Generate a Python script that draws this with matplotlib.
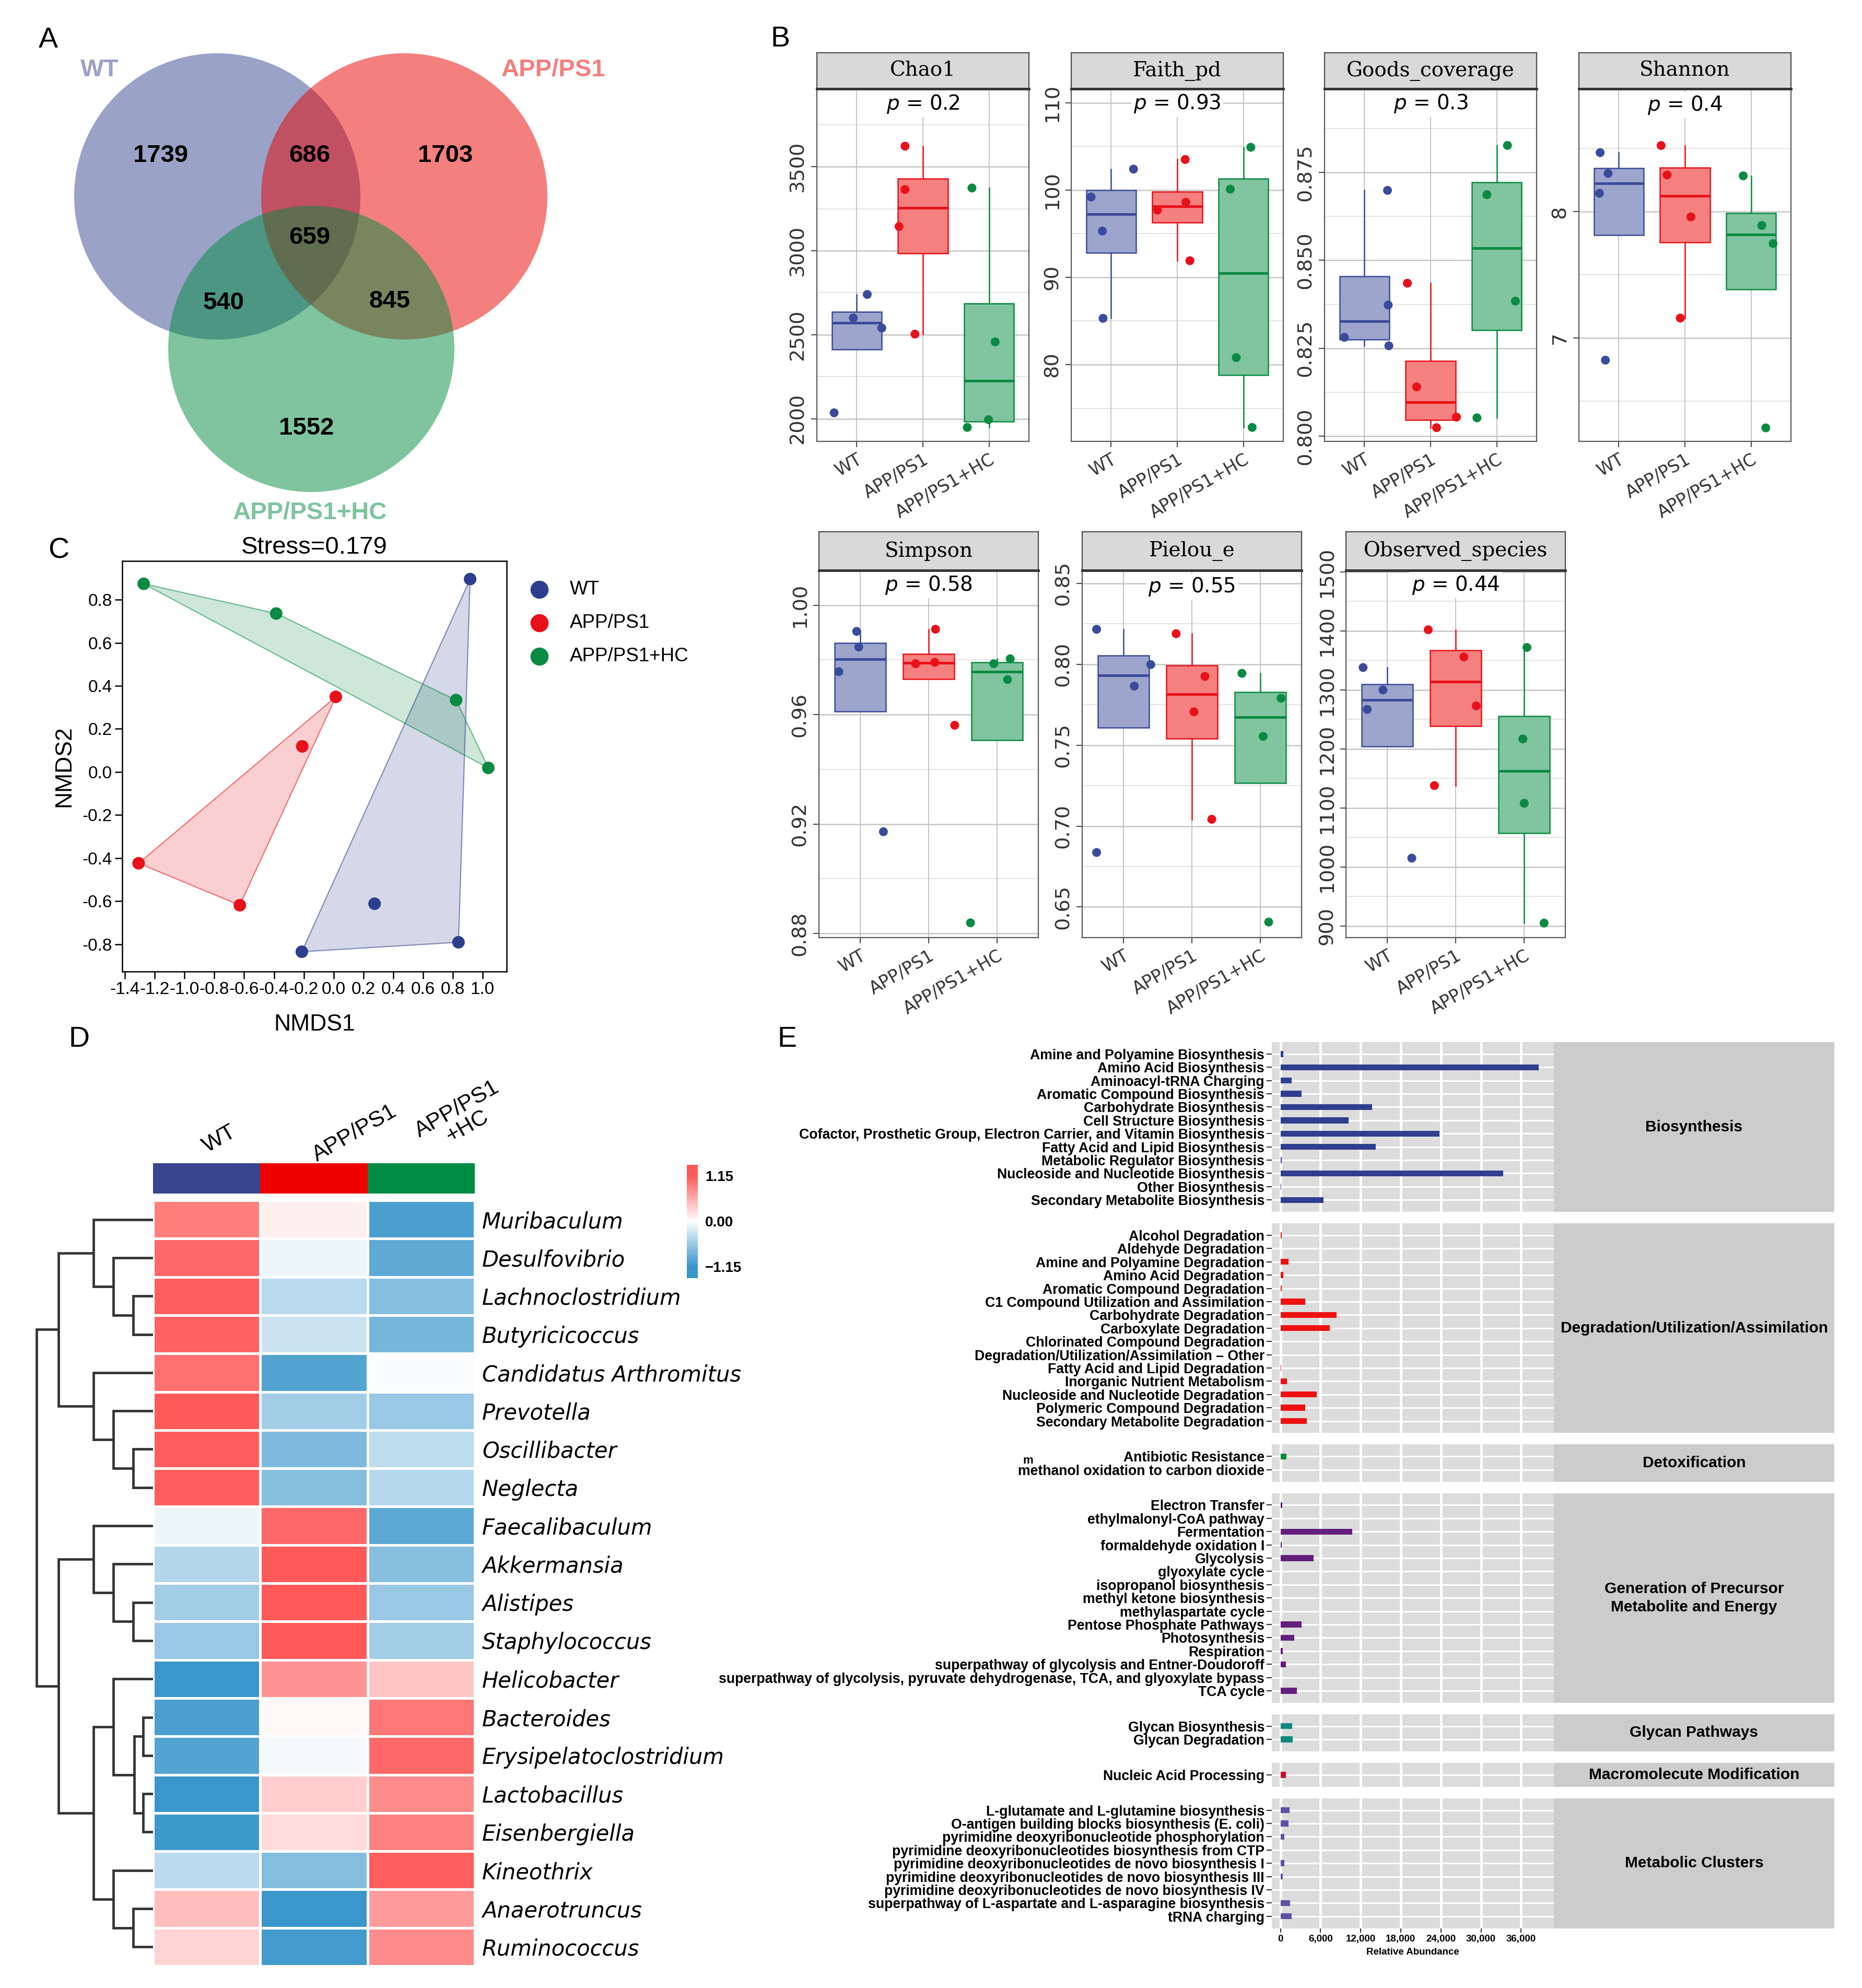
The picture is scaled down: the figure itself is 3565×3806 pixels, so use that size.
import numpy as np
import matplotlib
matplotlib.use('Agg')
import matplotlib.pyplot as plt
from matplotlib.patches import Circle, Rectangle, Polygon
from matplotlib.colors import LinearSegmentedColormap

plt.rcParams['font.family'] = 'DejaVu Sans'
plt.rcParams['axes.unicode_minus'] = False

# ---------------- data ----------------
groups = ['WT', 'APP/PS1', 'APP/PS1+HC']

# A - venn counts (WT only, WT&APP, APP only, all three, WT&HC, APP&HC, HC only)
venn_counts = [1739, 686, 1703, 659, 540, 845, 1552]

# B - alpha diversity (4 mice per group)
alpha_metrics = ['Chao1', 'Faith_pd', 'Goods_coverage', 'Shannon',
                 'Simpson', 'Pielou_e', 'Observed_species']
alpha_p = ['0.2', '0.93', '0.3', '0.4', '0.58', '0.55', '0.44']
alpha_wt = [[2036, 2740, 2600, 2540],
            [99.2, 95.3, 85.3, 102.4],
            [0.8699, 0.8373, 0.8281, 0.8257],
            [8.468, 8.303, 8.146, 6.825],
            [0.9904, 0.9847, 0.9757, 0.9172],
            [0.8216, 0.7998, 0.7865, 0.6837],
            [1338, 1300, 1267, 1015]]
alpha_app = [[3622, 3364, 3144, 2504],
             [103.5, 97.7, 98.6, 91.9],
             [0.8435, 0.8140, 0.8054, 0.8024],
             [8.524, 8.291, 7.959, 7.158],
             [0.9912, 0.9786, 0.9791, 0.9561],
             [0.8189, 0.7925, 0.7706, 0.7042],
             [1402, 1356, 1273, 1138]]
alpha_hc = [[3373, 2458, 1995, 1949],
            [104.9, 100.1, 80.8, 72.8],
            [0.8827, 0.8687, 0.8384, 0.8052],
            [8.284, 7.891, 7.748, 6.289],
            [0.9804, 0.9786, 0.9728, 0.8839],
            [0.7944, 0.7790, 0.7554, 0.6407],
            [1372, 1217, 1108, 905]]
# horizontal jitter of each point
jit_wt = [[-0.34, 0.16, -0.05, 0.38], [-0.30, -0.13, -0.12, 0.34], [0.35, 0.36, -0.30, 0.37],
          [-0.28, -0.16, -0.29, -0.20], [-0.05, -0.02, -0.31, 0.34], [-0.39, 0.40, 0.16, -0.39],
          [-0.35, -0.06, -0.29, 0.36]]
jit_app = [[-0.27, -0.27, -0.36, -0.12], [0.12, -0.30, 0.13, 0.19], [-0.35, -0.21, 0.39, 0.09],
           [-0.36, -0.27, 0.09, -0.07], [0.10, -0.19, 0.09, 0.38], [-0.23, 0.19, 0.03, 0.29],
           [-0.40, 0.12, 0.30, -0.31]]
jit_hc = [[-0.26, 0.09, -0.01, -0.33], [0.11, -0.20, -0.11, 0.13], [0.16, -0.15, 0.28, -0.30],
          [-0.12, 0.16, 0.33, 0.22], [0.19, -0.05, 0.15, -0.39], [-0.27, 0.30, 0.04, 0.12],
          [0.04, -0.02, 0.0, 0.29]]

# C - NMDS
nmds_group = ['WT'] * 4 + ['APP/PS1'] * 4 + ['APP/PS1+HC'] * 4
nmds1 = [0.916, 0.275, 0.838, -0.213, 0.015, -0.210, -1.308, -0.629, -1.274, -0.385, 0.822, 1.038]
nmds2 = [0.896, -0.612, -0.791, -0.835, 0.349, 0.119, -0.424, -0.619, 0.874, 0.736, 0.334, 0.019]
nmds_stress = 0.179

# D - heatmap (row z-scores)
genera = ['Muribaculum', 'Desulfovibrio', 'Lachnoclostridium', 'Butyricicoccus',
          'Candidatus Arthromitus', 'Prevotella', 'Oscillibacter', 'Neglecta',
          'Faecalibaculum', 'Akkermansia', 'Alistipes', 'Staphylococcus', 'Helicobacter',
          'Bacteroides', 'Erysipelatoclostridium', 'Lactobacillus', 'Eisenbergiella',
          'Kineothrix', 'Anaerotruncus', 'Ruminococcus']
heat_wt = [0.90, 1.05, 1.12, 1.10, 1.00, 1.15, 1.13, 1.13, -0.10, -0.45,
           -0.55, -0.60, -1.15, -1.05, -1.00, -1.15, -1.13, -0.40, 0.45, 0.30]
heat_app = [0.10, -0.10, -0.40, -0.30, -1.00, -0.55, -0.75, -0.70, 1.05, 1.15,
            1.15, 1.15, 0.75, 0.05, -0.05, 0.35, 0.25, -0.72, -1.15, -1.10]
heat_hc = [-1.05, -0.93, -0.72, -0.80, -0.03, -0.60, -0.38, -0.43, -0.95, -0.70,
           -0.60, -0.55, 0.40, 0.95, 1.05, 0.80, 0.88, 1.12, 0.70, 0.80]
# dendrogram merges: (node a, node b, height); new nodes are numbered from 20
dendro_merges = [(2, 3, 43), (1, 20, 85), (0, 21, 128), (6, 7, 43), (5, 23, 85), (4, 24, 128),
                 (22, 25, 203), (10, 11, 43), (9, 27, 85), (8, 28, 128), (13, 14, 21), (15, 16, 21),
                 (30, 31, 40), (12, 32, 85), (18, 19, 43), (17, 34, 85), (33, 35, 128),
                 (29, 36, 203), (26, 37, 250)]

# E - predicted pathways
e_cats = ['Biosynthesis', 'Degradation/Utilization/Assimilation', 'Detoxification',
          'Generation of Precursor\nMetabolite and Energy', 'Glycan Pathways',
          'Macromolecute Modification', 'Metabolic Clusters']
e_paths = [
    ['Amine and Polyamine Biosynthesis', 'Amino Acid Biosynthesis', 'Aminoacyl-tRNA Charging',
     'Aromatic Compound Biosynthesis', 'Carbohydrate Biosynthesis', 'Cell Structure Biosynthesis',
     'Cofactor, Prosthetic Group, Electron Carrier, and Vitamin Biosynthesis',
     'Fatty Acid and Lipid Biosynthesis', 'Metabolic Regulator Biosynthesis',
     'Nucleoside and Nucleotide Biosynthesis', 'Other Biosynthesis',
     'Secondary Metabolite Biosynthesis'],
    ['Alcohol Degradation', 'Aldehyde Degradation', 'Amine and Polyamine Degradation',
     'Amino Acid Degradation', 'Aromatic Compound Degradation',
     'C1 Compound Utilization and Assimilation', 'Carbohydrate Degradation',
     'Carboxylate Degradation', 'Chlorinated Compound Degradation',
     'Degradation/Utilization/Assimilation \u2013 Other', 'Fatty Acid and Lipid Degradation',
     'Inorganic Nutrient Metabolism', 'Nucleoside and Nucleotide Degradation',
     'Polymeric Compound Degradation', 'Secondary Metabolite Degradation'],
    ['Antibiotic Resistance', 'methanol oxidation to carbon dioxide'],
    ['Electron Transfer', 'ethylmalonyl-CoA pathway', 'Fermentation', 'formaldehyde oxidation I',
     'Glycolysis', 'glyoxylate cycle', 'isopropanol biosynthesis', 'methyl ketone biosynthesis',
     'methylaspartate cycle', 'Pentose Phosphate Pathways', 'Photosynthesis', 'Respiration',
     'superpathway of glycolysis and Entner-Doudoroff',
     'superpathway of glycolysis, pyruvate dehydrogenase, TCA, and glyoxylate bypass',
     'TCA cycle'],
    ['Glycan Biosynthesis', 'Glycan Degradation'],
    ['Nucleic Acid Processing'],
    ['L-glutamate and L-glutamine biosynthesis', 'O-antigen building blocks biosynthesis (E. coli)',
     'pyrimidine deoxyribonucleotide phosphorylation',
     'pyrimidine deoxyribonucleotides biosynthesis from CTP',
     'pyrimidine deoxyribonucleotides de novo biosynthesis I',
     'pyrimidine deoxyribonucleotides de novo biosynthesis III',
     'pyrimidine deoxyribonucleotides de novo biosynthesis IV',
     'superpathway of L-aspartate and L-asparagine biosynthesis', 'tRNA charging']]
e_abund = [
    [450, 38600, 1670, 3170, 13700, 10200, 23800, 14250, 170, 33300, 100, 6400],
    [170, 30, 1220, 390, 170, 3670, 8400, 7400, 30, 20, 110, 1000, 5400, 3700, 3900],
    [850, 20],
    [280, 20, 10700, 170, 4950, 20, 20, 20, 20, 3170, 2060, 330, 780, 40, 2450],
    [1720, 1830],
    [830],
    [1390, 1220, 550, 30, 550, 330, 30, 1460, 1670]]

# ---------------- styles ----------------
grp_full = ['#3B4B9B', '#E8111A', '#0C8A43']
grp_fill = ['#9DA5CD', '#F58080', '#80C4A0']
venn_base = ['#374791', '#E90000', '#008B41']
e_colors = ['#2F3E8E', '#EE1111', '#008B3A', '#641E7C', '#0E897D', '#C8102E', '#5D52A3']
ARIAL = 'Liberation Sans'

W, H = 3565, 3806
fig = plt.figure(figsize=(W / 100, H / 100), dpi=100)


def px_axes(x0, y0, x1, y1):
    # axes given by pixel box (top-left origin)
    return fig.add_axes([x0 / W, 1 - y1 / H, (x1 - x0) / W, (y1 - y0) / H])


def px_text(x, y, s, **kw):
    return fig.text(x / W, 1 - y / H, s, **kw)


def convex_hull(pts):
    pts = sorted(map(tuple, pts))

    def cross(o, a, b):
        return (a[0] - o[0]) * (b[1] - o[1]) - (a[1] - o[1]) * (b[0] - o[0])
    lower, upper = [], []
    for p in pts:
        while len(lower) >= 2 and cross(lower[-2], lower[-1], p) <= 0:
            lower.pop()
        lower.append(p)
    for p in reversed(pts):
        while len(upper) >= 2 and cross(upper[-2], upper[-1], p) <= 0:
            upper.pop()
        upper.append(p)
    return lower[:-1] + upper[:-1]


# panel letters
for letter, (lx, ly) in zip('ABCDE', [(92, 77), (1494, 75), (112, 1055), (151, 1990), (1507, 1990)]):
    px_text(lx, ly, letter, fontsize=40, family=ARIAL, ha='center', va='center')

# ---------------- A: venn ----------------
axA = px_axes(0, 0, 1250, 1040)
axA.set_xlim(0, 1250)
axA.set_ylim(1040, 0)
axA.axis('off')
venn_centers = [(416, 376), (774, 376), (596, 668)]
for (cx, cy), col in zip(venn_centers, venn_base):
    axA.add_patch(Circle((cx, cy), 274, facecolor=col, alpha=0.5, edgecolor='none'))
venn_pos = [(308, 298), (593, 298), (853, 298), (593, 455), (428, 580), (746, 577), (587, 820)]
for (x, y), n in zip(venn_pos, venn_counts):
    axA.text(x, y, str(n), ha='center', va='center', fontsize=34, fontweight='bold', family=ARIAL)
for (x, y), g, col in zip([(191, 134), (1060, 134), (594, 981)], groups, venn_base):
    axA.text(x, y, g, ha='center', va='center', fontsize=34, fontweight='bold', family=ARIAL,
             color=col, alpha=0.5)

# ---------------- B: alpha diversity boxplots ----------------
b_rects = [(1564, 170, 1970, 845), (2051, 170, 2457, 845), (2536, 170, 2942, 845),
           (3023, 170, 3429, 845), (1568, 1092, 1988, 1795), (2072, 1092, 2492, 1795),
           (2577, 1092, 2997, 1795)]
b_strip = [69, 69, 69, 69, 74, 74, 74]
b_ylim = [(1866, 3963), (71.2, 111.6), (0.7985, 0.8988), (6.182, 8.973),
          (0.8785, 1.0127), (0.6311, 0.858), (880.4, 1502.6)]
b_major = [[2000, 2500, 3000, 3500], [80, 90, 100, 110], [0.800, 0.825, 0.850, 0.875], [7, 8],
           [0.88, 0.92, 0.96, 1.00], [0.65, 0.70, 0.75, 0.80, 0.85],
           [900, 1000, 1100, 1200, 1300, 1400, 1500]]
b_fmt = ['{:.0f}', '{:.0f}', '{:.3f}', '{:.0f}', '{:.2f}', '{:.2f}', '{:.0f}']
b_py = [3873, 109.9, 0.8946, 8.845, 1.0074, 0.848, 1478]

for m in range(len(alpha_metrics)):
    x0, y0, x1, y1 = b_rects[m]
    ax = px_axes(x0, y0, x1, y1)
    ax.set_xlim(0.4, 3.6)
    ax.set_ylim(*b_ylim[m])
    major = b_major[m]
    step = major[1] - major[0]
    minor = [t + step / 2 for t in [major[0] - step] + major]
    for t in minor:
        ax.axhline(t, color='#E2E2E2', lw=1.3, zorder=0)
    for t in major:
        ax.axhline(t, color='#C6C6C6', lw=1.8, zorder=0)
    for xp in [1, 2, 3]:
        ax.axvline(xp, color='#C6C6C6', lw=1.5, zorder=0)

    vals = [alpha_wt[m], alpha_app[m], alpha_hc[m]]
    jits = [jit_wt[m], jit_app[m], jit_hc[m]]
    bp = ax.boxplot(vals, positions=[1, 2, 3], widths=0.75, patch_artist=True,
                    showfliers=False, showcaps=False, whis=1.5, zorder=2)
    for i in range(3):
        bp['boxes'][i].set(facecolor=grp_fill[i], edgecolor=grp_full[i], linewidth=1.8)
        bp['medians'][i].set(color=grp_full[i], linewidth=3.6)
        for wl in bp['whiskers'][2 * i:2 * i + 2]:
            wl.set(color=grp_full[i], linewidth=1.8)
        ax.scatter(np.array(jits[i]) + i + 1, vals[i], s=150, color=grp_full[i],
                   edgecolors='none', zorder=4)

    ax.text(2, b_py[m], r'$p$ = ' + alpha_p[m], ha='center', va='center', fontsize=28,
            zorder=5, bbox=dict(facecolor='white', edgecolor='none', pad=3))

    ax.set_yticks(major)
    ax.set_yticklabels([b_fmt[m].format(t) for t in major], rotation=90, va='center',
                       fontsize=27.5, color='#333333')
    ax.set_xticks([1, 2, 3])
    ax.set_xticklabels(groups, rotation=30, ha='right', rotation_mode='anchor',
                       fontsize=24, color='#333333')
    ax.tick_params(length=8, width=1.5, color='#4D4D4D', pad=5)
    for s in ax.spines.values():
        s.set_color('#5A5A5A')
        s.set_linewidth(1.6)

    sax = px_axes(x0, y0 - b_strip[m], x1, y0)
    sax.set_facecolor('#D9D9D9')
    sax.set_xticks([])
    sax.set_yticks([])
    for s in sax.spines.values():
        s.set_color('#4D4D4D')
        s.set_linewidth(1.6)
    sax.spines['bottom'].set_linewidth(3.5)
    sax.spines['bottom'].set_color('#333333')
    sax.text(0.5, 0.5, alpha_metrics[m], ha='center', va='center', fontsize=28,
             family='DejaVu Serif', transform=sax.transAxes)

# ---------------- C: NMDS ----------------
axC = px_axes(234, 1074, 970, 1860)
axC.set_xlim(-1.418, 1.161)
axC.set_ylim(-0.927, 0.98)
n1 = np.array(nmds1)
n2 = np.array(nmds2)
c_cols = ['#2E3E8E', '#E8101A', '#0A8A42']
for g, col in zip(groups, c_cols):
    idx = [i for i, gg in enumerate(nmds_group) if gg == g]
    hull = convex_hull(np.column_stack([n1[idx], n2[idx]]))
    axC.add_patch(Polygon(hull, closed=True, facecolor=col, alpha=0.2, edgecolor='none', zorder=1))
    axC.add_patch(Polygon(hull, closed=True, fill=False, edgecolor=col, alpha=0.55, lw=1.6, zorder=2))
    axC.scatter(n1[idx], n2[idx], s=300, color=col, edgecolors='none', zorder=3)
xt = np.round(np.arange(-1.4, 1.01, 0.2), 1)
yt = np.round(np.arange(-0.8, 0.81, 0.2), 1)
axC.set_xticks(xt)
axC.set_xticklabels(['{:.1f}'.format(v + 0.0) for v in xt])
axC.set_yticks(yt)
axC.set_yticklabels(['{:.1f}'.format(v + 0.0) for v in yt])
axC.tick_params(length=10, width=1.8, labelsize=24, pad=4)
for lab in axC.get_xticklabels() + axC.get_yticklabels():
    lab.set_family(ARIAL)
for s in axC.spines.values():
    s.set_linewidth(1.8)
axC.set_xlabel('NMDS1', fontsize=32, family=ARIAL, labelpad=22)
axC.set_ylabel('NMDS2', fontsize=32, family=ARIAL, labelpad=10)
axC.set_title('Stress={:.3f}'.format(nmds_stress), fontsize=34, family=ARIAL, pad=10)
for k, (g, col) in enumerate(zip(groups, c_cols)):
    px_text(1091, 1129 + 64 * k, g, fontsize=26.5, family=ARIAL, va='center')
legC = px_axes(1010, 1095, 1060, 1290)
legC.set_xlim(0, 50)
legC.set_ylim(195, 0)
legC.axis('off')
legC.scatter([23, 23, 23], [34, 98, 162], s=620, color=c_cols, edgecolors='none')

# ---------------- D: heatmap ----------------
cmap = LinearSegmentedColormap.from_list('heat', ['#3A96CB', '#FFFFFF', '#FF5A5A'])
heat = np.column_stack([heat_wt, heat_app, heat_hc])
axH = px_axes(293, 2298, 909, 3764)
axH.pcolormesh(np.arange(4), np.arange(len(genera) + 1), heat, cmap=cmap, vmin=-1.155, vmax=1.155,
               edgecolors='white', linewidth=2.5)
axH.set_xlim(0, 3)
axH.set_ylim(len(genera), 0)
axH.set_xticks([])
axH.yaxis.tick_right()
axH.set_yticks(np.arange(len(genera)) + 0.5)
axH.set_yticklabels(genera, fontsize=30, style='italic')
axH.tick_params(axis='y', length=0, pad=10)
for s in axH.spines.values():
    s.set_visible(False)

axG = px_axes(293, 2227, 909, 2285)
axG.set_xlim(0, 3)
axG.set_ylim(0, 1)
axG.axis('off')
for i, col in enumerate(['#3A4590', '#EE0000', '#008B45']):
    axG.add_patch(Rectangle((i, 0), 1, 1, facecolor=col, edgecolor='none'))
for (x, y), lab in zip([(420, 2181), (679, 2170), (885, 2140)], ['WT', 'APP/PS1', 'APP/PS1\n+HC']):
    px_text(x, y, lab, fontsize=31, family=ARIAL, rotation=30, ha='center', va='center',
            rotation_mode='anchor', multialignment='center', linespacing=0.95)

axD = px_axes(60, 2298, 293, 3764)
axD.set_xlim(261, 0)
axD.set_ylim(len(genera), 0)
axD.axis('off')
node_y = {i: i + 0.5 for i in range(len(genera))}
node_h = {i: 0.0 for i in range(len(genera))}
for k, (a, b, h) in enumerate(dendro_merges):
    nid = len(genera) + k
    axD.plot([node_h[a], h, h, node_h[b]], [node_y[a], node_y[a], node_y[b], node_y[b]],
             color='#333333', lw=3.4, solid_capstyle='butt', solid_joinstyle='miter')
    node_y[nid] = (node_y[a] + node_y[b]) / 2
    node_h[nid] = h

axCB = px_axes(1315, 2230, 1336, 2447)
cb_lo, cb_hi = -1.44, 1.43
axCB.imshow(np.linspace(cb_hi, cb_lo, 256).reshape(-1, 1), cmap=cmap, vmin=-1.155, vmax=1.155,
            aspect='auto', extent=[0, 1, cb_lo, cb_hi])
axCB.set_xticks([])
axCB.yaxis.tick_right()
axCB.set_yticks([1.15, 0.0, -1.15])
axCB.set_yticklabels(['1.15', '0.00', '\u22121.15'], fontsize=20, fontweight='bold', family=ARIAL)
axCB.tick_params(axis='y', length=0, pad=10)
for s in axCB.spines.values():
    s.set_visible(False)

# ---------------- E: pathway bars ----------------
unit, pad, gap = 25.4, 0.9, 22
e_ticks = [0, 6000, 12000, 18000, 24000, 30000, 36000]
ytop = 1995
for k, cat in enumerate(e_cats):
    names = e_paths[k]
    n = len(names)
    h = (n - 1 + 2 * pad) * unit
    ax = px_axes(2435, ytop, 2975, ytop + h)
    ax.set_facecolor('#DCDCDC')
    ax.set_xlim(-1300, 40900)
    ax.set_ylim(n - 1 + pad, -pad)
    for i in range(n):
        ax.axhline(i, color='white', lw=2.2, zorder=1)
    for t in e_ticks:
        ax.axvline(t, color='white', lw=3.5, zorder=1)
    ax.barh(np.arange(n), e_abund[k], height=0.45, color=e_colors[k], zorder=3)
    ax.set_yticks(np.arange(n))
    ax.set_yticklabels(names, fontsize=19.2, fontweight='bold', family=ARIAL)
    ax.tick_params(axis='y', length=7, width=1.5, color='#333333', pad=3)
    for s in ax.spines.values():
        s.set_visible(False)
    if k == len(e_cats) - 1:
        ax.set_xticks(e_ticks)
        ax.set_xticklabels(['{:,}'.format(t) for t in e_ticks], fontsize=13.5,
                           fontweight='bold', family=ARIAL)
        ax.tick_params(axis='x', length=6, width=1.5, color='#333333', pad=3)
        ax.set_xlabel('Relative Abundance', fontsize=13.5, fontweight='bold', family=ARIAL,
                      labelpad=6)
    else:
        ax.set_xticks([])
    if names[-1].startswith('methanol'):
        # stray superscript glyph seen in the original label
        px_text(1968, 2797, 'm', fontsize=16, fontweight='bold', family=ARIAL,
                ha='center', va='center')
    sax = px_axes(2975, ytop, 3512, ytop + h)
    sax.set_facecolor('#CCCCCC')
    sax.set_xticks([])
    sax.set_yticks([])
    for s in sax.spines.values():
        s.set_visible(False)
    sax.text(0.5, 0.5, cat, ha='center', va='center', fontsize=21.5, fontweight='bold',
             family=ARIAL, transform=sax.transAxes, linespacing=1.3)
    ytop += h + gap

fig.savefig('out.png', dpi=100)
